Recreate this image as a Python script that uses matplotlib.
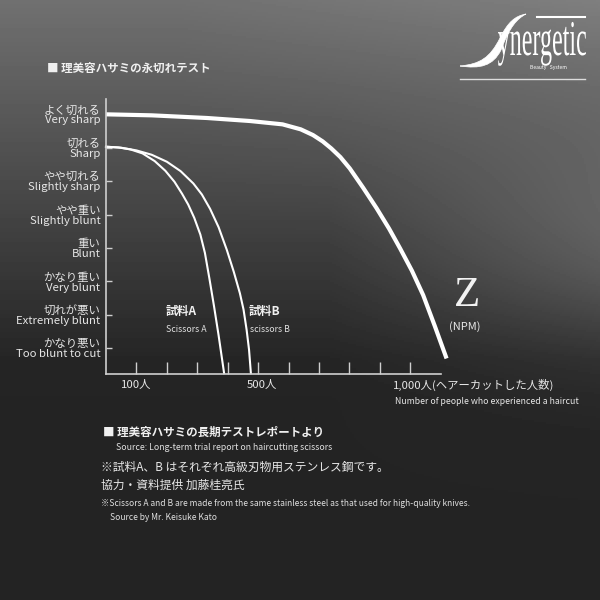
import numpy as np
import matplotlib.pyplot as plt
from matplotlib.path import Path
from matplotlib.textpath import TextPath
from matplotlib.font_manager import FontProperties
from matplotlib.transforms import Affine2D
import matplotlib.patches as mpatches

plt.rcParams['font.family'] = ['Noto Sans CJK JP', 'DejaVu Sans']

# sharpness levels (1 = too blunt ... 8 = very sharp)
levels = [1, 2, 3, 4, 5, 6, 7, 8]
level_labels = [
    "かなり悪い\nToo blunt to cut",
    "切れが悪い\nExtremely blunt",
    "かなり重い\nVery blunt",
    "重い\nBlunt",
    "やや重い\nSlightly blunt",
    "やや切れる\nSlightly sharp",
    "切れる\nSharp",
    "よく切れる\nVery sharp",
]

x_ticks = [100, 200, 300, 400, 500, 600, 700, 800, 900, 1000]

# number of haircuts vs sharpness
z_people = [0, 150, 332, 473, 580, 640, 680, 712, 740, 770, 801, 845, 889, 930, 966, 1005, 1042, 1080, 1119]
z_sharp = [8.00, 7.97, 7.89, 7.80, 7.70, 7.55, 7.38, 7.19, 6.98, 6.72, 6.38, 5.80, 5.19, 4.58, 3.99, 3.32, 2.59, 1.67, 0.69]

a_people = [0, 40, 80, 120, 160, 195, 225, 250, 270, 290, 310, 325, 340, 355, 370, 388]
a_sharp = [7.03, 7.01, 6.95, 6.83, 6.60, 6.31, 5.98, 5.62, 5.30, 4.90, 4.40, 3.85, 3.07, 2.25, 1.38, 0.25]

b_people = [0, 50, 100, 150, 200, 245, 287, 315, 342, 370, 397, 420, 440, 452, 462, 470, 476]
b_sharp = [7.03, 7.00, 6.92, 6.79, 6.58, 6.30, 5.93, 5.60, 5.17, 4.62, 3.94, 3.28, 2.64, 2.15, 1.55, 0.95, 0.25]

fig = plt.figure(figsize=(6, 6), dpi=100)

# background gradient
bg = fig.add_axes([0, 0, 1, 1], zorder=-10)
yy, xx = np.mgrid[0:1:300j, 0:1:300j]
shade = 0.38 - 0.24 * np.clip(yy / 0.6, 0, 1) + 0.06 * np.clip(1 - yy * 1.5, 0, 1)
shade += 0.13 * np.clip((xx - 0.55) / 0.45, 0, 1) * np.exp(-((yy - 0.42) / 0.18) ** 2)
shade += 0.08 * np.clip(xx - 0.3, 0, 1) * np.clip(1 - yy * 2.5, 0, 1)
shade = np.clip(shade, 0.13, 0.5)
bg.imshow(shade, cmap='gray', vmin=0, vmax=1, extent=[0, 1, 0, 1], aspect='auto')
bg.axis('off')

ax = fig.add_axes([106 / 600, 1 - 374 / 600, 350 / 600, 274.7 / 600])
ax.set_facecolor('none')
ax.set_xlim(0, 1150)
ax.set_ylim(0.225, 8.45)

ax.plot(z_people, z_sharp, color='white', lw=3.0, solid_capstyle='butt', solid_joinstyle='round', clip_on=False)
ax.plot(a_people, a_sharp, color='white', lw=1.5, solid_joinstyle='round', clip_on=False)
ax.plot(b_people, b_sharp, color='white', lw=1.5, solid_joinstyle='round', clip_on=False)

for side in ['top', 'right']:
    ax.spines[side].set_visible(False)
for side in ['left', 'bottom']:
    ax.spines[side].set_color('#cfcfcf')
    ax.spines[side].set_linewidth(1.2)
ax.spines['bottom'].set_bounds(0, 1100)

ax.set_xticks(x_ticks)
ax.set_xticklabels([])
ax.tick_params(axis='x', direction='in', length=9, width=1.0, color='#cfcfcf')
ax.set_yticks(levels)
ax.set_yticklabels(level_labels, fontsize=8.2, color='#e6e6e6', linespacing=1.0, ha='right')
ax.tick_params(axis='y', direction='in', length=4.5, width=1.0, color='#cfcfcf', pad=4)

# x labels
lbl = dict(color='#e6e6e6', fontsize=8.2, va='center')
fig.text(136 / 600, 1 - 385 / 600, "100人", ha='center', **lbl)
fig.text(262 / 600, 1 - 385 / 600, "500人", ha='center', **lbl)
fig.text(393 / 600, 1 - 385 / 600, "1,000人(ヘアーカットした人数)", ha='left', **lbl)
fig.text(395 / 600, 1 - 401 / 600, "Number of people who experienced a haircut", ha='left',
         color='#e6e6e6', fontsize=6.3, va='center')

# series labels
fig.text(166 / 600, 1 - 311 / 600, "試料A", color='#f0f0f0', fontsize=8.5, fontweight='bold', va='center')
fig.text(166 / 600, 1 - 329 / 600, "Scissors A", color='#e0e0e0', fontsize=6.3, va='center')
fig.text(249 / 600, 1 - 311 / 600, "試料B", color='#f0f0f0', fontsize=8.5, fontweight='bold', va='center')
fig.text(250 / 600, 1 - 329 / 600, "scissors B", color='#e0e0e0', fontsize=6.3, va='center')
fig.text(467 / 600, 1 - 296 / 600, "Z", color='#f2f2f2', fontsize=31, family='Liberation Serif',
         ha='center', va='center')
fig.text(465 / 600, 1 - 327 / 600, "(NPM)", color='#e6e6e6', fontsize=8, ha='center', va='center')

# title
fig.text(47 / 600, 1 - 68 / 600, "■ 理美容ハサミの永切れテスト", color='#f0f0f0', fontsize=8.3,
         fontweight='bold', va='center')

# notes
fig.text(103 / 600, 1 - 432 / 600, "■ 理美容ハサミの長期テストレポートより", color='#f0f0f0', fontsize=8.3,
         fontweight='bold', va='center')
fig.text(116 / 600, 1 - 448 / 600, "Source: Long-term trial report on haircutting scissors", color='#e0e0e0',
         fontsize=6.3, va='center')
fig.text(101 / 600, 1 - 467 / 600, "※試料A、B はそれぞれ高級刃物用ステンレス鋼です。", color='#e6e6e6',
         fontsize=8.5, va='center')
fig.text(101 / 600, 1 - 485 / 600, "協力・資料提供 加藤桂亮氏", color='#e6e6e6', fontsize=8.5, va='center')
fig.text(101 / 600, 1 - 504 / 600,
         "※Scissors A and B are made from the same stainless steel as that used for high-quality knives.",
         color='#e0e0e0', fontsize=6.1, va='center')
fig.text(110 / 600, 1 - 517 / 600, "Source by Mr. Keisuke Kato", color='#e0e0e0', fontsize=6.1, va='center')

# logo (pixel coordinates, y down)
logo = fig.add_axes([0, 0, 1, 1], zorder=5)
logo.set_xlim(0, 600)
logo.set_ylim(600, 0)
logo.axis('off')
tp = TextPath((0, 0), "ynergetic", size=1, prop=FontProperties(family='Liberation Serif'))
ext = tp.get_extents()
sx = 88 / ext.width
word = Affine2D().translate(-ext.x0, 0).scale(sx, -50).translate(498, 55).transform_path(tp)
logo.add_patch(mpatches.PathPatch(word, facecolor='white', edgecolor='none'))
logo.text(548, 68, "Beauty   System", color='white', fontsize=3.6, ha='center', va='center')
swoosh = Path([(460, 66), (480, 64), (490, 58), (500, 38), (508, 22), (515, 16), (526, 14),
               (517, 19), (510, 26), (501, 50), (493, 66), (480, 69), (460, 66)],
              [Path.MOVETO, Path.CURVE4, Path.CURVE4, Path.CURVE4, Path.CURVE4, Path.CURVE4, Path.CURVE4,
               Path.CURVE4, Path.CURVE4, Path.CURVE4, Path.CURVE4, Path.CURVE4, Path.CURVE4])
logo.add_patch(mpatches.PathPatch(swoosh, facecolor='white', edgecolor='white', lw=0.5))
logo.plot([537, 585], [17, 17], color='white', lw=1.5)
logo.plot([460, 585], [79, 79], color='#dddddd', lw=1.0)

fig.savefig("out.png", dpi=100)
